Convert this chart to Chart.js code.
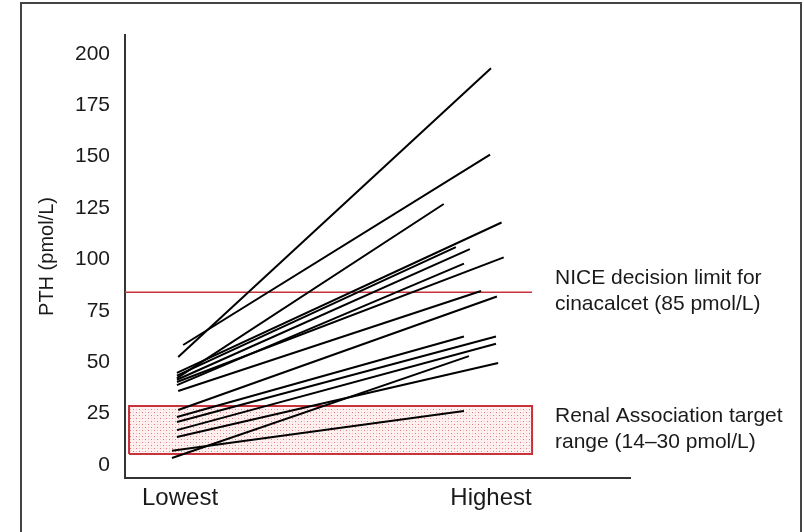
<!DOCTYPE html>
<html>
<head>
<meta charset="utf-8">
<script src="https://cdn.jsdelivr.net/npm/chart.js@4.4.1/dist/chart.umd.min.js"></script>
<style>
  html, body { margin: 0; padding: 0; background: #fff; }
  #wrap { position: relative; width: 804px; height: 532px; overflow: hidden; }
  #frame { position: absolute; left: 20px; top: 2px; width: 782px; height: 580px; border: 2px solid #444; box-sizing: border-box; }
  canvas { position: absolute; left: 0; top: 0; }
</style>
</head>
<body>
<div id="wrap">
  <div id="frame"></div>
  <canvas id="pthChart" width="804" height="532"></canvas>
</div>
<script>
// x: 0 = lowest PTH reading, 1 = highest PTH reading (per patient)
const xTicks = [0, 1];
const xTickLabels = ['Lowest', 'Highest'];
const yTicks = [0, 25, 50, 75, 100, 125, 150, 175, 200];

// one entry per patient
const startPos = [-0.006, 0.010, -0.010, -0.010, -0.010, -0.010, -0.010, -0.010, -0.006, -0.006, -0.010, -0.010, -0.010, -0.026, -0.010, -0.026];
const startPTH = [52.6, 58.4, 42.3, 44.8, 43.5, 41.5, 38.9, 40.4, 36, 26.8, 23.4, 20.9, 17, 3.4, 13.6, 7];
const endPos   = [1.0, 0.997, 0.848, 1.034, 0.887, 0.932, 0.913, 1.041, 0.968, 1.019, 0.913, 1.016, 1.016, 0.929, 1.023, 0.913];
const endPTH   = [193, 151, 127, 118, 106, 105, 98, 101, 84.7, 82, 62.5, 62.5, 59, 53, 49.6, 26.3];

// reference marks as drawn in the figure
const niceLimit = 84;
const niceEnd = 1.132;
const bandLow = 5.4;
const bandHigh = 28.7;
const bandStart = -0.164;
const bandEnd = 1.132;

const xMin = -0.177, xMax = 1.447;
const yMin = -6.3, yMax = 209.2;

const FONT = "'Liberation Sans', Arial, Helvetica, sans-serif";
const RED = '#c8323a';

// dotted fill for the target range
function dotPattern() {
  const c = document.createElement('canvas');
  c.width = 6; c.height = 6;
  const g = c.getContext('2d');
  g.fillStyle = 'rgba(255, 228, 228, 0.55)';
  g.fillRect(0, 0, 6, 6);
  g.fillStyle = 'rgba(210, 70, 70, 0.7)';
  g.fillRect(1, 1, 1, 1);
  g.fillRect(4, 4, 1, 1);
  g.fillStyle = 'rgba(220, 110, 110, 0.35)';
  g.fillRect(4, 1, 1, 1);
  g.fillRect(1, 4, 1, 1);
  return g.createPattern(c, 'repeat');
}

const patientSets = startPTH.map((v, i) => ({
  data: [{ x: startPos[i], y: v }, { x: endPos[i], y: endPTH[i] }],
  borderColor: '#000',
  borderWidth: 2,
  pointRadius: 0,
  fill: false,
  order: 1
}));

const niceSet = {
  data: [{ x: xMin, y: niceLimit }, { x: niceEnd, y: niceLimit }],
  borderColor: RED,
  borderWidth: 1.5,
  pointRadius: 0,
  fill: false,
  order: 2
};

const bandSet = {
  data: [
    { x: bandStart, y: bandLow },
    { x: bandStart, y: bandHigh },
    { x: bandEnd, y: bandHigh },
    { x: bandEnd, y: bandLow },
    { x: bandStart, y: bandLow }
  ],
  borderColor: RED,
  borderWidth: 2,
  backgroundColor: dotPattern(),
  pointRadius: 0,
  tension: 0,
  fill: 'shape',
  order: 3
};

// side notes next to the reference marks
const notesPlugin = {
  id: 'notes',
  afterDraw(chart) {
    const ctx = chart.ctx;
    ctx.save();
    ctx.fillStyle = '#1a1a1a';
    ctx.font = '21px ' + FONT;
    ctx.textBaseline = 'alphabetic';
    ctx.fillText('NICE decision limit for', 555, 284);
    ctx.fillText('cinacalcet (85 pmol/L)', 555, 310);
    ctx.fillText('Renal Association target', 555, 422);
    ctx.fillText('range (14\u201330 pmol/L)', 555, 448);
    ctx.restore();
  }
};

new Chart(document.getElementById('pthChart'), {
  type: 'line',
  data: { datasets: [bandSet, niceSet, ...patientSets] },
  options: {
    responsive: false,
    animation: false,
    layout: { padding: { left: 0, top: 35, right: 174, bottom: 0 } },
    plugins: { legend: { display: false }, tooltip: { enabled: false } },
    scales: {
      x: {
        type: 'linear',
        min: xMin,
        max: xMax,
        grid: { display: false, drawTicks: false },
        border: { display: true, color: '#333', width: 2 },
        afterBuildTicks: scale => { scale.ticks = xTicks.map(v => ({ value: v })); },
        afterFit: scale => { scale.height = 54; },
        ticks: {
          padding: 6,
          color: '#1a1a1a',
          font: { family: FONT, size: 24 },
          callback: v => xTickLabels[xTicks.indexOf(v)]
        }
      },
      y: {
        min: yMin,
        max: yMax,
        grid: { display: false, drawTicks: false },
        border: { display: true, color: '#333', width: 2 },
        afterBuildTicks: scale => { scale.ticks = yTicks.map(v => ({ value: v })); },
        afterFit: scale => { scale.width = 125; },
        ticks: {
          padding: 15,
          color: '#1a1a1a',
          font: { family: FONT, size: 21 }
        },
        title: {
          display: true,
          text: 'PTH (pmol/L)',
          color: '#1a1a1a',
          font: { family: FONT, size: 20 },
          padding: { top: 35, bottom: 0 }
        }
      }
    }
  },
  plugins: [notesPlugin]
});
</script>
</body>
</html>
